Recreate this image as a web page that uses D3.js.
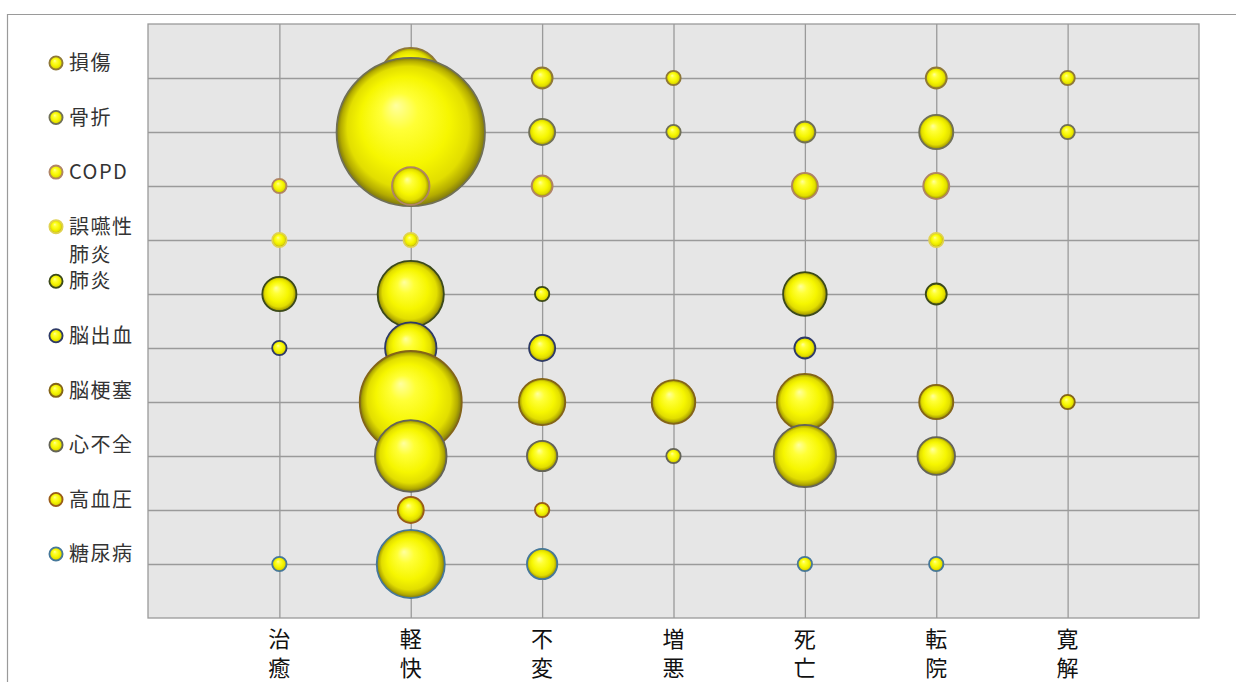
<!DOCTYPE html>
<html>
<head>
<meta charset="utf-8">
<script src="https://cdn.jsdelivr.net/npm/d3@7"></script>
<style>
  body { margin: 0; background: #fff; }
  svg { display: block; font-family: "Noto Sans CJK JP", "Noto Sans", sans-serif; }
</style>
</head>
<body>
<svg id="chart" width="1236" height="682"></svg>
<script>
// Outcome categories (columns) and diagnoses (rows)
const outcomes = ['治癒', '軽快', '不変', '増悪', '死亡', '転院', '寛解'];
const diseases = ['損傷', '骨折', 'COPD', '誤嚥性肺炎', '肺炎', '脳出血', '脳梗塞', '心不全', '高血圧', '糖尿病'];

// Patient counts per outcome, one array per diagnosis (0 = no bubble)
const injury       = [0, 15, 2, 1, 0, 2, 1];
const fracture     = [0, 88, 3, 1, 2, 5, 1];
const copd         = [1, 6, 2, 0, 3, 3, 0];
const aspiration   = [1, 1, 0, 0, 0, 1, 0];
const pneumonia    = [5, 18, 1, 0, 8, 2, 0];
const hemorrhage   = [1, 11, 3, 0, 2, 0, 0];
const infarction   = [0, 42, 9, 8, 13, 5, 1];
const heartFailure = [0, 21, 4, 1, 16, 6, 0];
const hypertension = [0, 3, 1, 0, 0, 0, 0];
const diabetes     = [1, 19, 4, 0, 1, 1, 0];

const seriesValues = [injury, fracture, copd, aspiration, pneumonia, hemorrhage,
                      infarction, heartFailure, hypertension, diabetes];

// Rim colour of each diagnosis' bubbles
const rimColors = ['#8f7838', '#707058', '#b08466', '#e0d250', '#3c4a1a',
                   '#2e3a66', '#846418', '#646458', '#9a5c18', '#46789a'];

const svg = d3.select('#chart');

// Sphere shading for bubbles
const defs = svg.append('defs');
const grad = defs.append('radialGradient')
  .attr('id', 'sphere')
  .attr('cx', '50%').attr('cy', '50%').attr('r', '50%')
  .attr('fx', '40%').attr('fy', '32%');
[[0, '#ffffa0'], [0.25, '#ffff36'], [0.6, '#f6f600'], [0.82, '#e2de00'], [0.93, '#b4ac00'], [1, '#7c7610']]
  .forEach(([o, c]) => grad.append('stop').attr('offset', o).attr('stop-color', c));

// Outer frame (top and left edges)
svg.append('path')
  .attr('d', 'M7.5,682 V14.5 H1236')
  .attr('fill', 'none').attr('stroke', '#9a9a9a').attr('stroke-width', 1.2);

const plot = { left: 148, top: 24, right: 1199, bottom: 618 };

const x = d3.scaleLinear().domain([0, outcomes.length + 1]).range([plot.left, plot.right]);
const y = d3.scaleLinear().domain([0, diseases.length + 1]).range([plot.top, plot.bottom]);
const r = d3.scaleSqrt().domain([0, 88]).range([0, 75]);

// Plot background
svg.append('rect')
  .attr('x', plot.left).attr('y', plot.top)
  .attr('width', plot.right - plot.left).attr('height', plot.bottom - plot.top)
  .attr('fill', '#e6e6e6').attr('stroke', '#9a9a9a').attr('stroke-width', 1.3);

// Grid lines through each category position
const colTicks = d3.range(1, outcomes.length + 1);
const rowTicks = d3.range(1, diseases.length + 1);

svg.append('g')
  .attr('transform', `translate(0,${plot.bottom})`)
  .call(d3.axisBottom(x).tickValues(colTicks).tickSize(-(plot.bottom - plot.top)).tickFormat(''))
  .call(g => g.select('.domain').remove())
  .call(g => g.selectAll('.tick line').attr('stroke', '#9a9a9a').attr('stroke-width', 1.3));

svg.append('g')
  .attr('transform', `translate(${plot.left},0)`)
  .call(d3.axisLeft(y).tickValues(rowTicks).tickSize(-(plot.right - plot.left)).tickFormat(''))
  .call(g => g.select('.domain').remove())
  .call(g => g.selectAll('.tick line').attr('stroke', '#9a9a9a').attr('stroke-width', 1.3));

// Outcome labels, written vertically one character per line
const xLabels = svg.append('g');
outcomes.forEach((label, j) => {
  const t = xLabels.append('text')
    .attr('x', x(j + 1))
    .attr('y', 647)
    .attr('text-anchor', 'middle')
    .attr('font-size', 22)
    .attr('fill', '#111');
  Array.from(label).forEach((ch, k) => {
    t.append('tspan').attr('x', x(j + 1)).attr('dy', k === 0 ? 0 : 29).text(ch);
  });
});

// Bubbles, drawn row by row so later rows sit on top
const bubbles = svg.append('g');
seriesValues.forEach((vals, i) => {
  vals.forEach((v, j) => {
    if (v <= 0) return;
    bubbles.append('circle')
      .attr('cx', x(j + 1))
      .attr('cy', y(i + 1))
      .attr('r', r(v) - 0.8)
      .attr('fill', 'url(#sphere)')
      .attr('stroke', rimColors[i])
      .attr('stroke-width', 1.8);
  });
});

// Legend
const legendY = d3.scaleLinear().domain([0, diseases.length - 1]).range([63, 554]);
const legend = svg.append('g');
diseases.forEach((name, i) => {
  const cy = legendY(i);
  legend.append('circle')
    .attr('cx', 56).attr('cy', cy).attr('r', 6.6)
    .attr('fill', 'url(#sphere)')
    .attr('stroke', rimColors[i]).attr('stroke-width', 1.8);
  const t = legend.append('text')
    .attr('x', 69).attr('y', cy)
    .attr('dy', '0.36em')
    .attr('font-size', 20)
    .attr('letter-spacing', 1.5)
    .attr('fill', '#333');
  t.text(name);
  // Wrap long labels by characters
  if (t.node().getComputedTextLength() > 75) {
    t.text(null);
    const chars = Array.from(name);
    for (let k = 0; k < chars.length; k += 3) {
      t.append('tspan').attr('x', 69).attr('dy', k === 0 ? '0.36em' : 28)
        .text(chars.slice(k, k + 3).join(''));
    }
    t.attr('dy', null);
  }
});
</script>
</body>
</html>
